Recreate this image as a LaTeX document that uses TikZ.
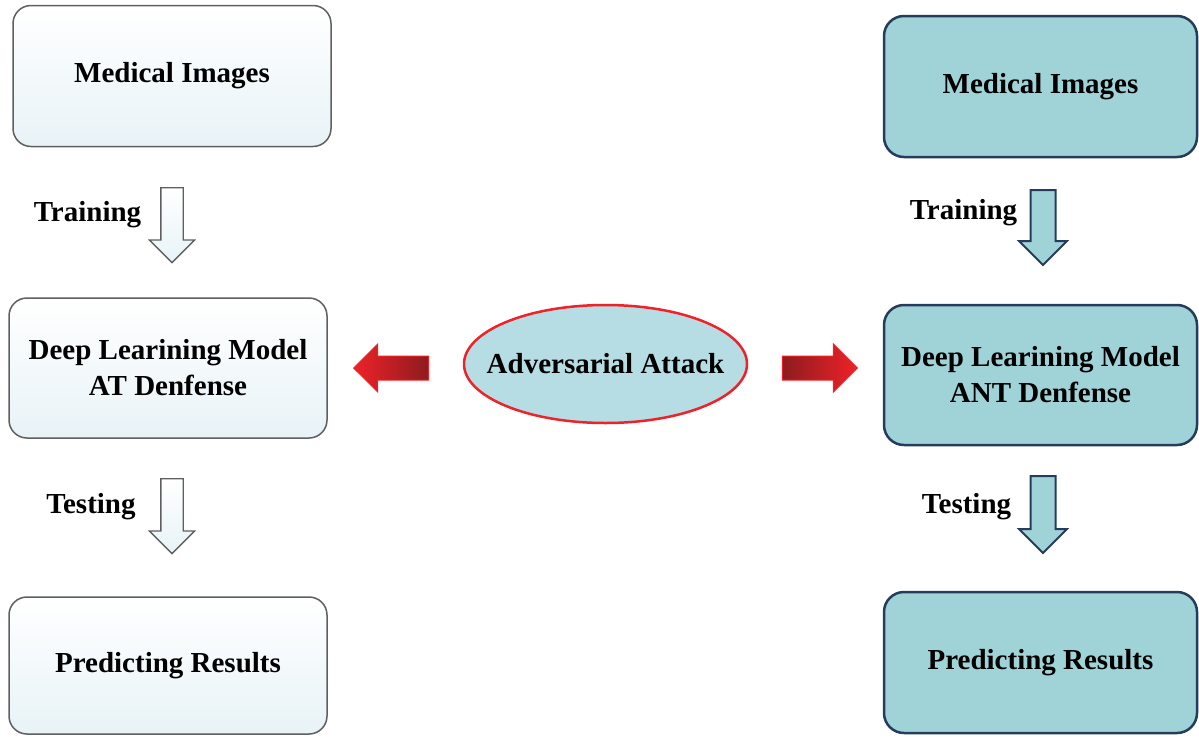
\documentclass[tikz,border=0pt]{standalone}
\usepackage{fontspec}
\setmainfont{Liberation Serif}
\usetikzlibrary{shapes.geometric}
\usetikzlibrary{shapes.arrows}
\definecolor{paleblue}{RGB}{232,243,247}
\definecolor{tealfill}{RGB}{160,211,215}
\definecolor{navyline}{RGB}{38,60,92}
\definecolor{greyline}{RGB}{95,95,95}
\definecolor{ovalfill}{RGB}{182,221,227}
\definecolor{attackred}{RGB}{238,34,40}
\definecolor{attackdark}{RGB}{140,28,30}
\tikzset{
  every node/.style={font=\bfseries\fontsize{29}{36}\selectfont},
  plainbox/.style={draw=greyline, line width=1.5pt, rounded corners=18pt,
    top color=white, bottom color=paleblue, align=center},
  tealbox/.style={draw=navyline, line width=2.5pt, rounded corners=20pt,
    fill=tealfill, align=center},
  blockdown/.style={single arrow, shape border rotate=270, inner ysep=0pt,
    inner xsep=10.5pt, minimum width=44pt, minimum height=75pt,
    single arrow head extend=11.5pt, anchor=tail},
  hollowdown/.style={blockdown, draw=greyline, line width=1.3pt,
    top color=white, bottom color=paleblue},
  tealdown/.style={blockdown, draw=navyline, line width=2pt, fill=tealfill,
    inner xsep=11.5pt, minimum width=48pt},
  redarrow/.style={single arrow, inner xsep=0pt, inner ysep=11.5pt,
    minimum width=47pt, minimum height=75pt, single arrow head extend=12pt,
    draw=attackred, line width=1pt, anchor=tip}
}
\begin{document}
\begin{tikzpicture}[x=1pt, y=-1pt]
    \useasboundingbox (0,0) rectangle (1199,736);
    % Left column: adversarial training
    \node[plainbox, minimum width=318pt, minimum height=141pt] (imgL) at (172,76) {Medical Images};
    \node[plainbox, minimum width=318pt, minimum height=140pt] (dlL) at (168,368)
      {Deep Learining Model\\AT Denfense};
    \node[plainbox, minimum width=318pt, minimum height=137pt] (resL) at (168,665.5) {Predicting Results};
    \node[hollowdown] (trainL) at (172,187) {};
    \node (trainLlab) at (87.5,215) {Training};
    \node[hollowdown] (testL) at (172,478) {};
    \node (testLlab) at (91,507) {Testing};
    % Right column
    \node[tealbox, minimum width=313pt, minimum height=141pt] (imgR) at (1040.5,86.5) {Medical Images};
    \node[tealbox, minimum width=313pt, minimum height=140pt] (dlR) at (1040.5,375)
      {Deep Learining Model\\ANT Denfense};
    \node[tealbox, minimum width=313pt, minimum height=141pt] (resR) at (1040.5,662.5) {Predicting Results};
    \node[tealdown] (trainR) at (1043,189) {};
    \node (trainRlab) at (963.5,213) {Training};
    \node[tealdown, minimum height=77pt] (testR) at (1043,475) {};
    \node (testRlab) at (966.5,507) {Testing};
    % The attack in the middle
    \node[ellipse, draw=attackred, line width=2.5pt, fill=ovalfill, inner xsep=-20pt,
      inner ysep=0pt, minimum width=283pt, minimum height=118pt] (attack) at (605.5,364) {Adversarial Attack};
    \node[redarrow, shape border rotate=180, left color=attackred, right color=attackdark]
      (atkL) at (353,368) {};
    \node[redarrow, left color=attackdark, right color=attackred] (atkR) at (858,368) {};
\end{tikzpicture}
\end{document}
